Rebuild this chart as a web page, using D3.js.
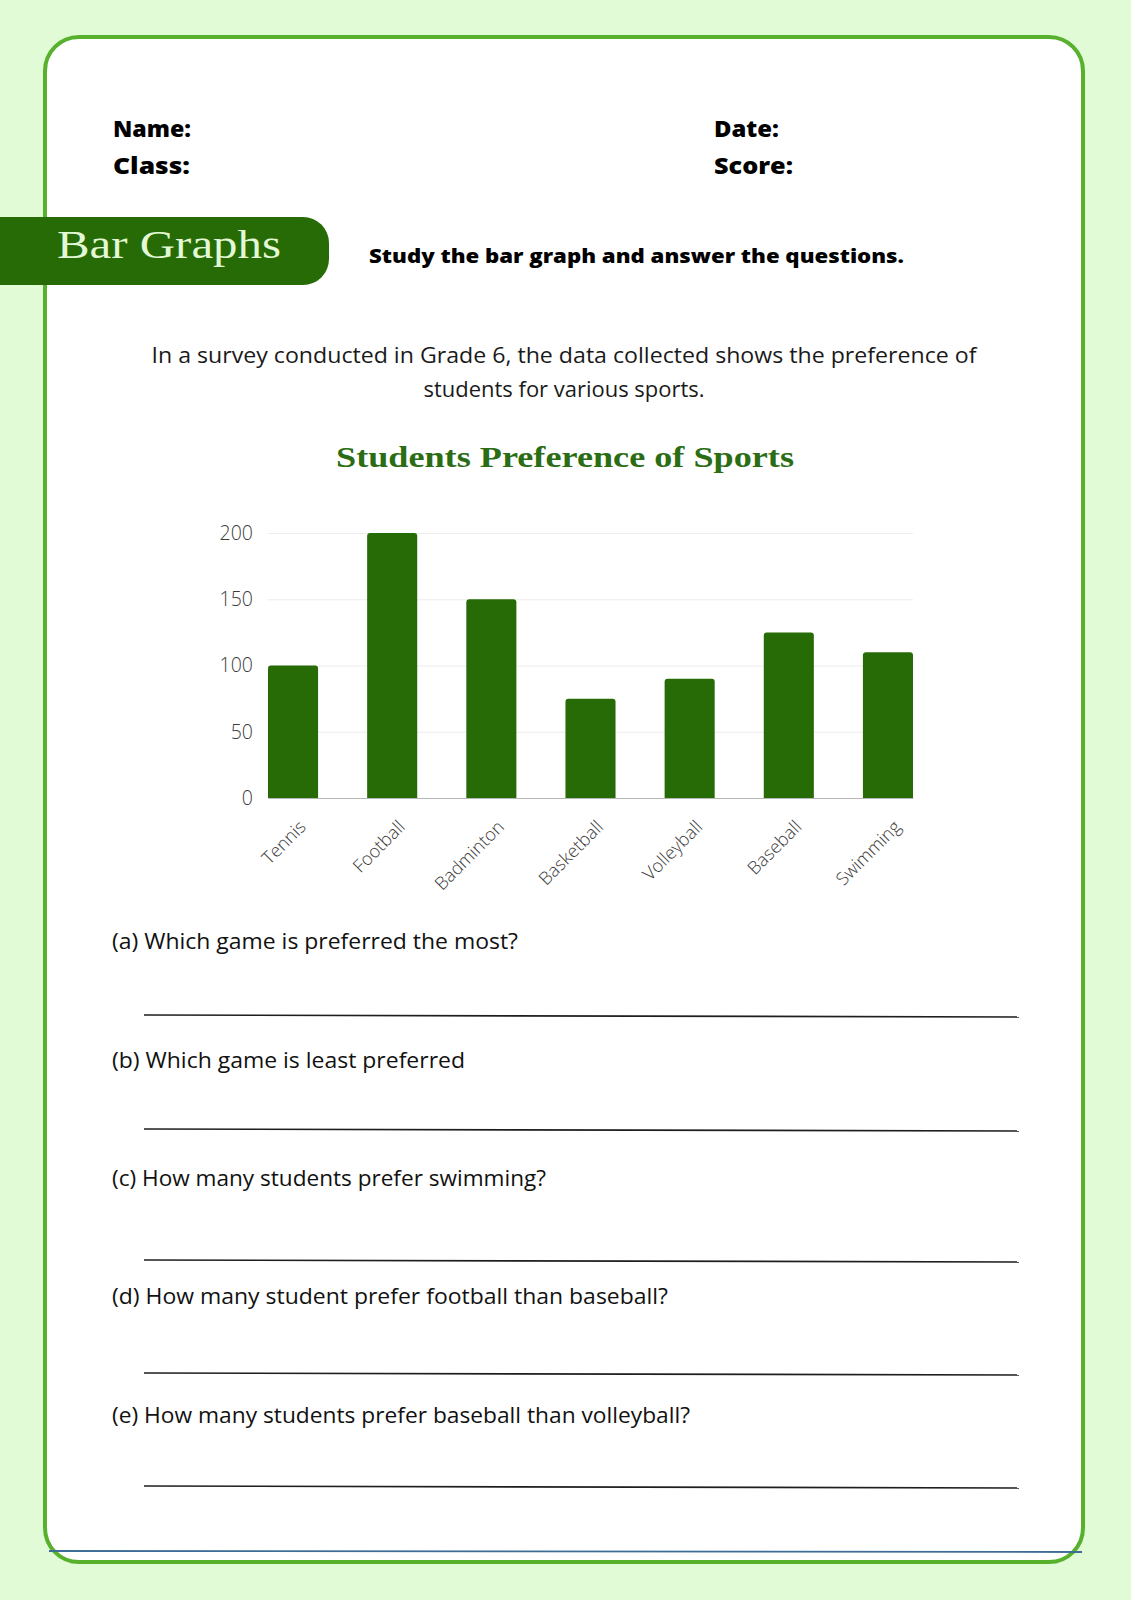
<!DOCTYPE html>
<html>
<head>
<meta charset="utf-8">
<script src="https://cdn.jsdelivr.net/npm/d3@7"></script>
<style>
  html, body { margin: 0; padding: 0; background: #e2fbd7; }
  svg { display: block; }
  .tick text { font-family: "Open Sans", sans-serif; }
</style>
</head>
<body>
<svg id="sheet" width="1131" height="1600"></svg>
<script>
  // chart data
  const sports = ["Tennis", "Football", "Badminton", "Basketball", "Volleyball", "Baseball", "Swimming"];
  const students = [100, 200, 150, 75, 90, 125, 110];
  const yTicks = [0, 50, 100, 150, 200];

  // worksheet texts
  const headerLeft = ["Name:", "Class:"];
  const headerRight = ["Date:", "Score:"];
  const intro = ["In a survey conducted in Grade 6, the data collected shows the preference of",
                 "students for various sports."];
  const questions = [
    "(a) Which game is preferred the most?",
    "(b) Which game is least preferred",
    "(c) How many students prefer swimming?",
    "(d) How many student prefer football than baseball?",
    "(e) How many students prefer baseball than volleyball?"
  ];

  const svg = d3.select("#sheet");
  const green = "#266b06";
  const body = "'Open Sans', sans-serif";

  // card
  svg.append("rect")
    .attr("x", 45).attr("y", 37).attr("width", 1038).attr("height", 1525)
    .attr("rx", 34)
    .attr("fill", "#fff").attr("stroke", "#58b12d").attr("stroke-width", 4);

  // header
  const leftW = [78, 77], rightW = [65, 79];
  const hdr = svg.append("g")
    .attr("font-family", body).attr("font-weight", 800)
    .attr("font-size", 22).attr("fill", "#000");
  headerLeft.forEach((t, i) => hdr.append("text").attr("x", 113).attr("y", 137 + i * 37)
    .attr("textLength", leftW[i]).attr("lengthAdjust", "spacingAndGlyphs").text(t));
  headerRight.forEach((t, i) => hdr.append("text").attr("x", 714).attr("y", 137 + i * 37)
    .attr("textLength", rightW[i]).attr("lengthAdjust", "spacingAndGlyphs").text(t));

  // banner
  svg.append("rect")
    .attr("x", -40).attr("y", 217).attr("width", 369).attr("height", 68)
    .attr("rx", 26).attr("fill", green);
  svg.append("text")
    .attr("x", 57).attr("y", 258)
    .attr("font-family", "'Liberation Serif', serif").attr("font-size", 41)
    .attr("textLength", 224).attr("lengthAdjust", "spacingAndGlyphs")
    .attr("fill", "#e3f8d4").text("Bar Graphs");
  svg.append("text")
    .attr("x", 369).attr("y", 263)
    .attr("font-family", body).attr("font-weight", 800).attr("font-size", 20)
    .attr("textLength", 535).attr("lengthAdjust", "spacingAndGlyphs")
    .text("Study the bar graph and answer the questions.");

  // intro paragraph
  const introWidth = [825, 281];
  const para = svg.append("g")
    .attr("font-family", body).attr("font-size", 21)
    .attr("fill", "#1a1a1a").attr("text-anchor", "middle");
  intro.forEach((t, i) => para.append("text")
    .attr("x", 564).attr("y", 363 + i * 34)
    .attr("textLength", introWidth[i]).attr("lengthAdjust", "spacingAndGlyphs")
    .text(t));

  // chart title
  svg.append("text")
    .attr("x", 565).attr("y", 467).attr("text-anchor", "middle")
    .attr("font-family", "'Liberation Serif', serif").attr("font-weight", "bold").attr("font-size", 29)
    .attr("textLength", 458).attr("lengthAdjust", "spacingAndGlyphs")
    .attr("fill", "#2b6d14").text("Students Preference of Sports");

  // chart
  const plot = {left: 268, right: 913, top: 533, bottom: 798};
  const x = d3.scaleBand().domain(sports).range([plot.left, plot.right])
    .paddingInner(0.495).paddingOuter(0);
  const y = d3.scaleLinear().domain([0, 200]).range([plot.bottom, plot.top]);

  const yAxis = svg.append("g")
    .attr("transform", `translate(${plot.left},0)`)
    .call(d3.axisLeft(y).tickValues(yTicks).tickSize(-(plot.right - plot.left)).tickPadding(15));
  yAxis.select(".domain").remove();
  yAxis.selectAll(".tick line").attr("stroke", "#ececec").attr("stroke-width", 1);
  yAxis.selectAll(".tick text").attr("font-size", 19.5).attr("font-weight", 300).attr("fill", "#3c3c3c");

  const r = 3;
  svg.append("g").selectAll("path")
    .data(sports)
    .join("path")
    .attr("fill", green)
    .attr("d", (d, i) => {
      const x0 = x(d), w = x.bandwidth(), y0 = y(students[i]), y1 = y(0);
      return `M${x0},${y1}V${y0 + r}Q${x0},${y0} ${x0 + r},${y0}H${x0 + w - r}` +
             `Q${x0 + w},${y0} ${x0 + w},${y0 + r}V${y1}Z`;
    });

  const xAxis = svg.append("g")
    .attr("transform", `translate(0,${plot.bottom})`)
    .call(d3.axisBottom(x).tickSize(0).tickPadding(0));
  xAxis.select(".domain").attr("stroke", "#b5b5b5").attr("stroke-width", 1.2);
  xAxis.selectAll(".tick text")
    .attr("font-size", 18).attr("font-weight", 300).attr("fill", "#3c3c3c")
    .attr("text-anchor", "end").attr("dy", 0).attr("y", 0)
    .attr("transform", "translate(14,30) rotate(-45)");

  // questions with answer lines
  const qBase = [949, 1068, 1186, 1304, 1423];
  const qWidth = [406, 353, 434, 556, 578];
  const lineY = [1016, 1130, 1261, 1374, 1487];
  const q = svg.append("g")
    .attr("font-family", body).attr("font-size", 22).attr("fill", "#111");
  questions.forEach((t, i) => {
    q.append("text").attr("x", 112).attr("y", qBase[i])
      .attr("textLength", qWidth[i]).attr("lengthAdjust", "spacingAndGlyphs").text(t);
    q.append("line")
      .attr("x1", 144).attr("x2", 1019).attr("y1", lineY[i] - 1).attr("y2", lineY[i] + 1)
      .attr("stroke", "#1e1e1e").attr("stroke-width", 1.6);
  });

  // bottom rule
  svg.append("line")
    .attr("x1", 49).attr("x2", 1082).attr("y1", 1551).attr("y2", 1552)
    .attr("stroke", "#3d6d97").attr("stroke-width", 1.8);
</script>
</body>
</html>
